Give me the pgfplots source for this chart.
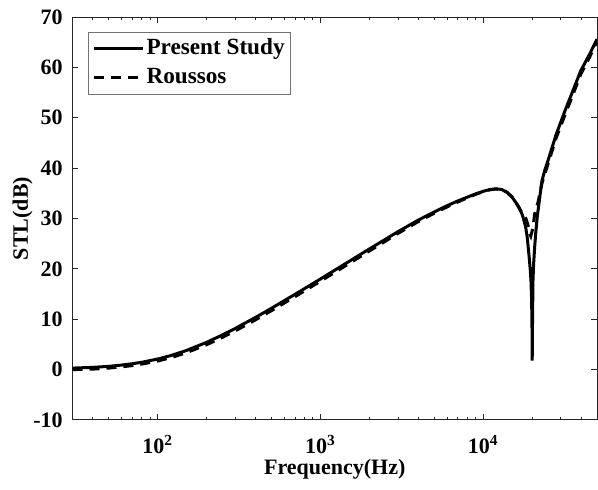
\documentclass[border=0pt]{standalone}
\usepackage{fontspec}
\setmainfont{Liberation Serif}
\usepackage{pgfplots}
\pgfplotsset{compat=1.18}
\begin{document}
\begin{tikzpicture}
\begin{axis}[
  scale only axis,
  width=262.25pt, height=201.5pt,
  xmode=log, xmin=30, xmax=50000,
  ymin=-10, ymax=70,
  ytick={-10,0,10,20,30,40,50,60,70},
  yticklabels={-10,0,10,20,30,40,50,60,70},
  xtick={100,1000,10000},
  xticklabels={10\textsuperscript{2},10\textsuperscript{3},10\textsuperscript{4}},
  minor xtick={40,50,60,70,80,90,200,300,400,500,600,700,800,900,2000,3000,4000,5000,6000,7000,8000,9000,20000,30000,40000},
  tick align=inside, tick pos=both,
  major tick length=2.8pt, minor tick length=1.6pt,
  axis line style={black!85, line width=0.5pt},
  every tick/.style={black!85, line width=0.5pt},
  ticklabel style={font=\fontsize{11}{13}\selectfont\bfseries, inner sep=0pt},
  xticklabel style={yshift=-7.5pt},
  yticklabel style={xshift=-4.75pt},
  xlabel={Frequency(Hz)}, ylabel={STL(dB)},
  every axis x label/.style={at={(axis description cs:0.5,0)}, anchor=north, yshift=-19.5pt, inner sep=0pt, font=\fontsize{11}{13}\selectfont\bfseries},
  every axis y label/.style={at={(axis description cs:-0.0753,0.5)}, rotate=90, anchor=south, inner sep=0pt, font=\fontsize{11}{13}\selectfont\bfseries},
  legend style={at={(axis description cs:0.0296,0.963)}, anchor=north west, draw=black!55, line width=0.5pt, fill=white,
    font=\fontsize{11.6}{13}\selectfont\bfseries, inner xsep=2pt, inner ysep=1.8pt, row sep=1.5pt,
    nodes={inner sep=1pt, text height=8.3pt, text depth=2.6pt},
    /tikz/every even column/.append style={column sep=0pt}},
  legend cell align=left,
  legend image code/.code={\draw[#1] (0pt,0pt) -- (24.5pt,0pt);},
]
\addplot[black, line width=1.5pt] coordinates {
(30,0.30) (40,0.45) (50,0.65) (60,0.90) (70,1.17) (80,1.46) (100,2.10) (120,2.77) (150,3.79)
(200,5.42) (250,6.88) (300,8.18) (400,10.38) (500,12.17) (700,14.97) (1000,17.99) (1500,21.48)
(2000,23.96) (3000,27.40) (4000,29.70) (5000,31.30) (6000,32.55) (7000,33.50) (8000,34.25)
(9000,34.90) (10000,35.40) (11000,35.75) (12000,35.90) (13000,35.75) (14000,35.20) (15000,34.30)
(16000,33.00) (16600,32.20) (17200,31.10) (17600,30.20) (18200,28.40) (18600,26.50) (18900,24.30)
(19200,22.00) (19450,19.80) (19650,17.70) (19800,14.50) (19900,11.00) (19960,7.00) (20000,1.80)
(20050,7.00) (20120,12.00) (20220,17.70) (20400,21.00) (20700,24.30) (21000,27.00) (21500,30.50)
(22000,33.00) (22950,37.50) (24000,39.80) (25000,41.50) (28000,46.60) (31800,51.40) (35000,54.80)
(39700,59.30) (45000,62.60) (50000,65.60)
};
\addlegendentry{Present Study}
\addplot[black, line width=1.5pt, dash pattern=on 5pt off 3.5pt] coordinates {
(30,0.00) (40,0.10) (50,0.30) (60,0.55) (70,0.80) (80,1.10) (100,1.70) (120,2.35) (150,3.35)
(200,4.95) (250,6.40) (300,7.70) (400,9.90) (500,11.70) (700,14.50) (1000,17.55) (1500,21.05)
(2000,23.55) (3000,27.05) (4000,29.40) (5000,31.05) (6000,32.30) (7000,33.30) (8000,34.10)
(9000,34.80) (10000,35.30) (11000,35.70) (12000,35.85) (13000,35.70) (14000,35.20) (15000,34.30)
(16000,33.00) (17000,31.50) (17600,30.90) (18300,30.00) (18800,28.80) (19100,27.80) (19300,27.00)
(19600,26.50) (19900,27.30) (20220,28.20) (20700,30.90) (21200,32.20) (21700,33.20) (22950,37.00)
(25000,40.80) (28000,45.90) (31800,50.60) (35000,54.00) (39700,58.60) (45000,62.00) (50000,65.20)
};
\addlegendentry{Roussos}
\end{axis}
\pgfresetboundingbox
\path[use as bounding box] (-36.25pt,-35pt) rectangle (262.75pt,210pt);
\end{tikzpicture}
\end{document}
